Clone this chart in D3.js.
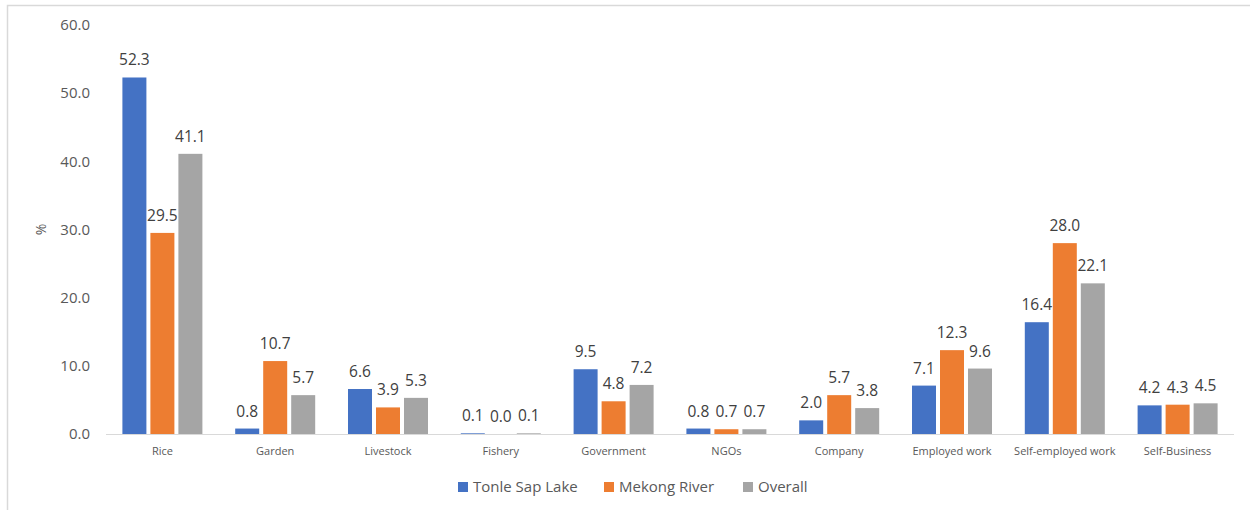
<!DOCTYPE html>
<html><head><meta charset="utf-8">
<script src="https://cdn.jsdelivr.net/npm/d3@7"></script>
<style>body{margin:0;background:#fff}svg{display:block}</style>
</head><body>
<svg id="c" width="1250" height="510"></svg>
<script>
const categories = ["Rice","Garden","Livestock","Fishery","Government","NGOs","Company","Employed work","Self-employed work","Self-Business"];
const seriesNames = ["Tonle Sap Lake","Mekong River","Overall"];
const tonleSap = [52.3,0.8,6.6,0.1,9.5,0.8,2.0,7.1,16.4,4.2];
const mekong = [29.5,10.7,3.9,0.0,4.8,0.7,5.7,12.3,28.0,4.3];
const overall = [41.1,5.7,5.3,0.1,7.2,0.7,3.8,9.6,22.1,4.5];
const yTicks = [0,10,20,30,40,50,60];
const colors = ["#4472C4","#ED7D31","#A5A5A5"];
const series = [tonleSap, mekong, overall];

const svg = d3.select("#c");
const font = "'Open Sans', 'Noto Sans', sans-serif";
const txt = "#595959";

// border
svg.append("path").attr("d","M7.5,510 V5.5 H1250").attr("fill","none").attr("stroke","#d9d9d9").attr("stroke-width",1.5);

const x = d3.scaleBand().domain(categories).range([106,1234]);
const y = d3.scaleLinear().domain([0,60]).range([434,25]);
const bw = 24, gap = 4;

// y tick labels
svg.append("g").selectAll("text").data(yTicks).join("text")
  .attr("x",90).attr("y",d=>y(d)).attr("dy","0.35em").attr("text-anchor","end")
  .attr("font-family",font).attr("font-size",15).attr("fill",txt)
  .text(d=>d3.format(".1f")(d));

svg.append("text").attr("transform",`translate(46,${y(30)}) rotate(-90)`)
  .attr("text-anchor","middle").attr("font-family",font).attr("font-size",14).attr("fill",txt).text("%");

// bars
series.forEach((vals,si)=>{
  const g = svg.append("g");
  const off = (si-1)*(bw+gap) - bw/2;
  g.selectAll("rect").data(vals).join("rect")
    .attr("x",(d,i)=>x(categories[i])+x.bandwidth()/2+off)
    .attr("y",d=>y(d)).attr("width",bw).attr("height",d=>y(0)-y(d))
    .attr("fill",colors[si]);
  g.selectAll("text").data(vals).join("text")
    .attr("x",(d,i)=>x(categories[i])+x.bandwidth()/2+off+bw/2)
    .attr("y",d=>y(d)-12).attr("text-anchor","middle")
    .attr("font-family",font).attr("font-size",15.5).attr("fill","#404040")
    .text(d=>d3.format(".1f")(d));
});

// x axis line
svg.append("line").attr("x1",106).attr("x2",1234).attr("y1",y(0)+0.5).attr("y2",y(0)+0.5)
  .attr("stroke","#d9d9d9").attr("stroke-width",1);

svg.append("g").selectAll("text").data(categories).join("text")
  .attr("x",d=>x(d)+x.bandwidth()/2).attr("y",455).attr("text-anchor","middle")
  .attr("font-family",font).attr("font-size",11).attr("fill",txt).text(d=>d);

// legend
const legX = [458,604,743];
const lg = svg.append("g");
seriesNames.forEach((n,i)=>{
  lg.append("rect").attr("x",legX[i]).attr("y",482).attr("width",10).attr("height",10).attr("fill",colors[i]);
  lg.append("text").attr("x",legX[i]+15).attr("y",487).attr("dy","0.35em")
    .attr("font-family",font).attr("font-size",15).attr("fill",txt).text(n);
});
</script>
</body></html>
